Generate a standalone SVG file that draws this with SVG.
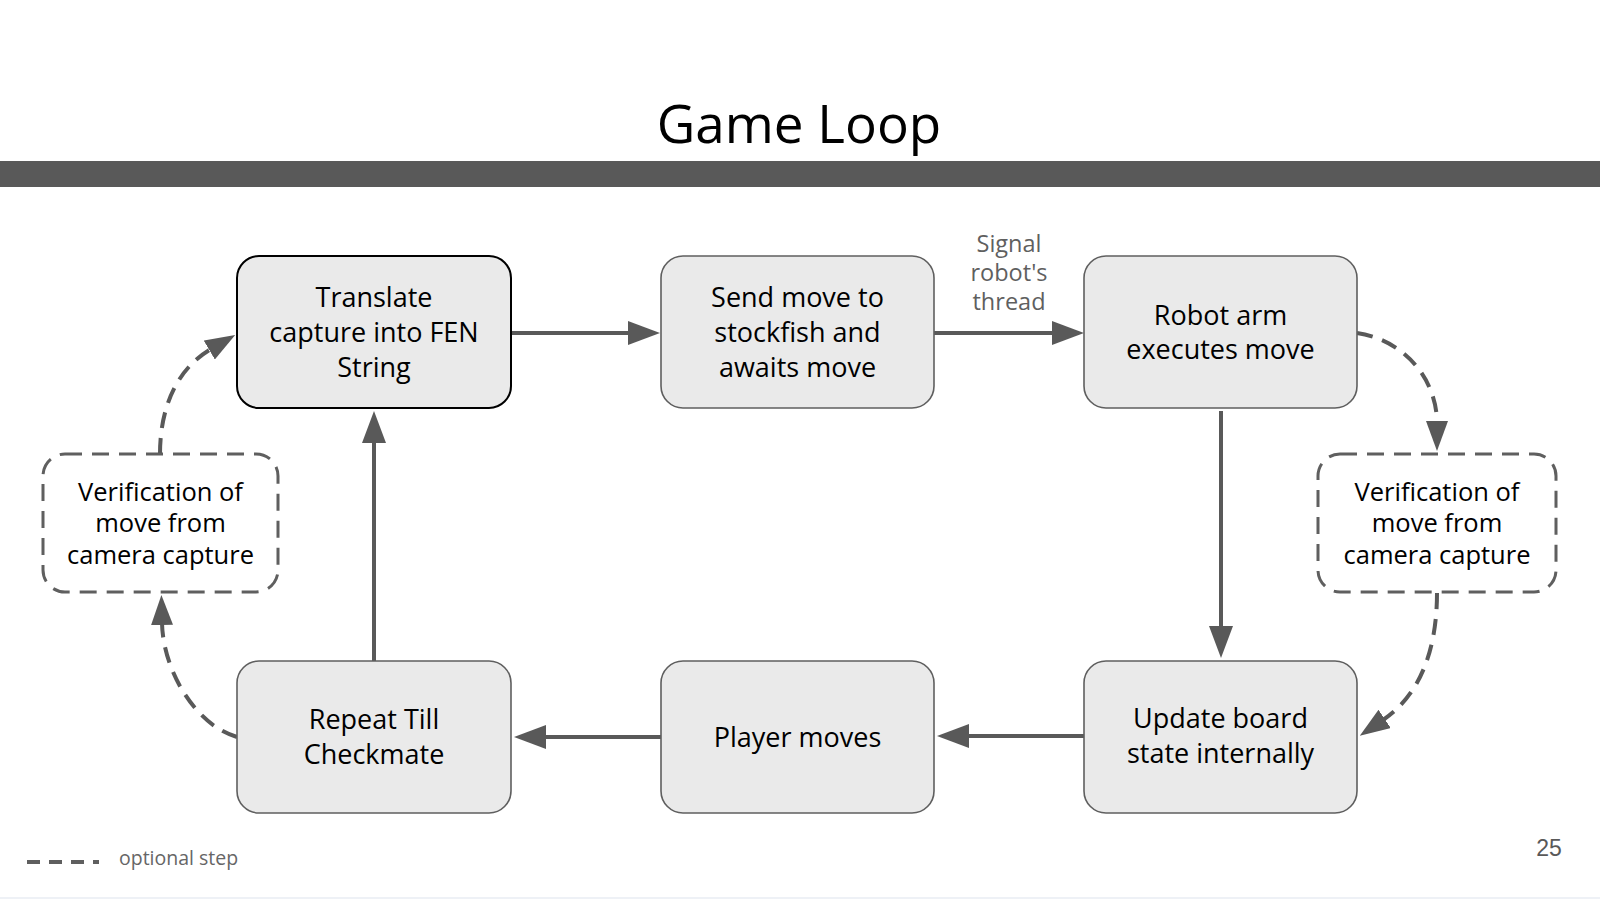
<svg xmlns="http://www.w3.org/2000/svg" width="1600" height="899" viewBox="0 0 1600 899">
  <style>
    .box { fill: #eaeaea; stroke: #5f5f5f; stroke-width: 1.6; }
    .box.sel { stroke: #000000; stroke-width: 2; }
    .opt { fill: #ffffff; stroke: #5f5f5f; stroke-width: 3; stroke-dasharray: 17 10; }
    .lbl { font-family: "Open Sans", "Liberation Sans", sans-serif; font-size: 27px; fill: #000000; text-anchor: middle; }
    .lbl.small { font-size: 25.5px; }
    .edge { fill: none; stroke: #595959; stroke-width: 4; }
    .edge.dash { stroke-dasharray: 16 10; }
    .note { font-family: "Open Sans", "Liberation Sans", sans-serif; font-size: 23.5px; fill: #5f5f5f; text-anchor: middle; }
  </style>
  <defs>
    <marker id="ah" viewBox="0 0 32 24" markerWidth="32" markerHeight="24" refX="2" refY="12" orient="auto" markerUnits="userSpaceOnUse">
      <path d="M0,0 L32,12 L0,24 Z" fill="#595959" stroke="none"/>
    </marker>
    <marker id="ahd" viewBox="0 0 30 22" markerWidth="30" markerHeight="22" refX="2" refY="11" orient="auto" markerUnits="userSpaceOnUse">
      <path d="M0,0 L30,11 L0,22 Z" fill="#595959" stroke="none"/>
    </marker>
  </defs>

  <rect x="0" y="0" width="1600" height="899" fill="#ffffff"/>
  <rect x="0" y="897" width="1600" height="2" fill="#eef1f6"/>

  <g id="title">
    <text x="799" y="143" font-family="'Open Sans', 'Liberation Sans', sans-serif" font-size="53" fill="#000000" text-anchor="middle">Game Loop</text>
    <rect x="0" y="161" width="1600" height="26" fill="#595959"/>
  </g>

  <g id="connectors">
    <path class="edge" d="M511,333 L630,333" marker-end="url(#ah)"/>
    <path class="edge" d="M934,333 L1054,333" marker-end="url(#ah)"/>
    <path class="edge" d="M1221,411 L1221,628" marker-end="url(#ah)"/>
    <path class="edge" d="M1084,736 L967,736" marker-end="url(#ah)"/>
    <path class="edge" d="M661,737 L544,737" marker-end="url(#ah)"/>
    <path class="edge" d="M374,661 L374,441" marker-end="url(#ah)"/>
    <path class="edge dash" d="M1357,333 C1405,340 1437,380 1437,423" marker-end="url(#ahd)"/>
    <path class="edge dash" d="M1437,593 C1437,650 1420,695 1383,720" marker-end="url(#ahd)"/>
    <path class="edge dash" d="M237,737 C195,725 163,670 162,623" marker-end="url(#ahd)"/>
    <path class="edge dash" d="M160,454 C160,410 175,370 211,349" marker-end="url(#ahd)"/>
    <text class="note" x="1009" y="252">Signal</text>
    <text class="note" x="1009" y="281">robot's</text>
    <text class="note" x="1009" y="310">thread</text>
  </g>

  <g id="translate">
    <rect class="box sel" x="237" y="256" width="274" height="152" rx="22"/>
    <text class="lbl" x="374" y="307">Translate</text>
    <text class="lbl" x="374" y="342">capture into FEN</text>
    <text class="lbl" x="374" y="377">String</text>
  </g>

  <g id="send">
    <rect class="box" x="661" y="256" width="273" height="152" rx="22"/>
    <text class="lbl" x="797.5" y="307">Send move to</text>
    <text class="lbl" x="797.5" y="342">stockfish and</text>
    <text class="lbl" x="797.5" y="377">awaits move</text>
  </g>

  <g id="robot">
    <rect class="box" x="1084" y="256" width="273" height="152" rx="22"/>
    <text class="lbl" x="1220.5" y="325">Robot arm</text>
    <text class="lbl" x="1220.5" y="359">executes move</text>
  </g>

  <g id="verify-right">
    <rect class="opt" x="1318" y="454" width="238" height="138" rx="22"/>
    <text class="lbl small" x="1437" y="501">Verification of</text>
    <text class="lbl small" x="1437" y="532">move from</text>
    <text class="lbl small" x="1437" y="564">camera capture</text>
  </g>

  <g id="verify-left">
    <rect class="opt" x="43" y="454" width="235" height="138" rx="22"/>
    <text class="lbl small" x="160.5" y="501">Verification of</text>
    <text class="lbl small" x="160.5" y="532">move from</text>
    <text class="lbl small" x="160.5" y="564">camera capture</text>
  </g>

  <g id="update">
    <rect class="box" x="1084" y="661" width="273" height="152" rx="22"/>
    <text class="lbl" x="1220.5" y="728">Update board</text>
    <text class="lbl" x="1220.5" y="763">state internally</text>
  </g>

  <g id="player">
    <rect class="box" x="661" y="661" width="273" height="152" rx="22"/>
    <text class="lbl" x="797.5" y="747">Player moves</text>
  </g>

  <g id="repeat">
    <rect class="box" x="237" y="661" width="274" height="152" rx="22"/>
    <text class="lbl" x="374" y="729">Repeat Till</text>
    <text class="lbl" x="374" y="764">Checkmate</text>
  </g>

  <g id="legend">
    <path d="M27,862 L99,862" fill="none" stroke="#5f5f5f" stroke-width="4" stroke-dasharray="13 9"/>
    <text x="119" y="865" font-family="'Open Sans', 'Liberation Sans', sans-serif" font-size="19.5" fill="#666666">optional step</text>
  </g>

  <text x="1549" y="856" font-family="'Liberation Sans', Arial, sans-serif" font-size="23" fill="#595959" text-anchor="middle">25</text>
</svg>
